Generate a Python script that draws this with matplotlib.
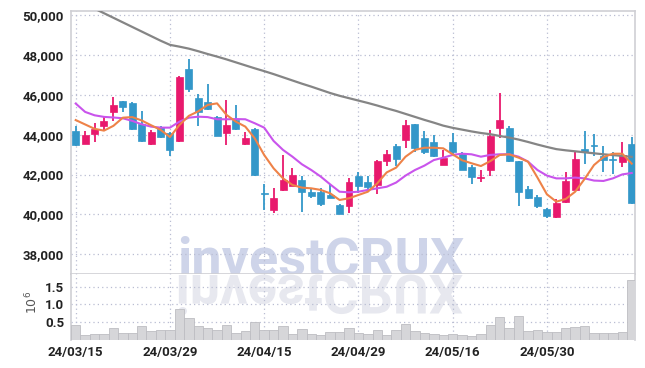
import matplotlib
matplotlib.use('Agg')
import matplotlib.pyplot as plt
import numpy as np
from matplotlib.textpath import TextPath
from matplotlib.patches import PathPatch
from matplotlib.font_manager import FontProperties
import matplotlib.transforms as mtransforms

# ---------------- data ----------------
dates = ['24/03/15', '24/03/18', '24/03/19', '24/03/20', '24/03/21', '24/03/22',
         '24/03/25', '24/03/26', '24/03/27', '24/03/28', '24/03/29',
         '24/04/01', '24/04/02', '24/04/03', '24/04/04', '24/04/05',
         '24/04/08', '24/04/09', '24/04/11', '24/04/12', '24/04/15',
         '24/04/16', '24/04/17', '24/04/18', '24/04/19', '24/04/22',
         '24/04/23', '24/04/24', '24/04/25', '24/04/26', '24/04/29',
         '24/04/30', '24/05/02', '24/05/03', '24/05/07', '24/05/08',
         '24/05/09', '24/05/10', '24/05/13', '24/05/14', '24/05/16',
         '24/05/17', '24/05/20', '24/05/21', '24/05/22', '24/05/23',
         '24/05/24', '24/05/27', '24/05/28', '24/05/29', '24/05/30',
         '24/05/31', '24/06/03', '24/06/04', '24/06/05', '24/06/07',
         '24/06/10', '24/06/11', '24/06/12', '24/06/13']

opens = [44190, 43555, 44025, 44460, 45160, 45700, 45600, 44525, 43555, 44390,
         44090, 43690, 47300, 45865, 45665, 44895, 44090, 44760, 43555, 44290,
         41040, 40240, 41210, 41445, 41710, 41110, 41110, 40975, 40470, 40440,
         41915, 41645, 41480, 42685, 43455, 43720, 44560, 43820, 43620, 42480,
         43620, 43050, 42380, 41810, 42215, 44360, 44325, 42685, 41275, 40875,
         40270, 39870, 40605, 41245, 43285, 43490, 42920, 42750, 42615, 43555]
closes = [43490, 43990, 44290, 44695, 45495, 45400, 44290, 43690, 44125, 43890,
          43255, 46905, 46300, 45160, 45295, 43955, 44490, 44290, 43855, 41980,
          41010, 40810, 41710, 41980, 41110, 40940, 40505, 40840, 40035, 41610,
          41445, 41375, 42685, 43050, 42785, 44490, 43355, 43120, 42920, 42850,
          43150, 42250, 41880, 41880, 43925, 44725, 42685, 41140, 40840, 40440,
          39935, 40575, 41680, 42785, 43150, 43455, 42750, 42715, 42985, 40575]
highs = [44460, 44190, 44575, 44895, 45885, 45700, 45665, 45195, 44260, 44460,
         44155, 46940, 47810, 46035, 46535, 44960, 45730, 45495, 44155, 44360,
         41510, 41310, 42985, 42350, 41915, 41345, 41345, 41545, 40505, 41810,
         42150, 41915, 42750, 43220, 43520, 44725, 44560, 44190, 43990, 43255,
         44090, 43120, 42480, 42215, 44260, 46100, 44460, 42700, 41445, 40975,
         40305, 40775, 42150, 43150, 44190, 44025, 43455, 43120, 43620, 43890]
lows = [43450, 43530, 43620, 44225, 44695, 45130, 44260, 43620, 43490, 43855,
        42950, 43620, 46165, 44460, 45265, 43920, 43490, 44225, 43490, 41915,
        40205, 40070, 41175, 41410, 40105, 40840, 40440, 40810, 40005, 40070,
        41075, 41175, 41040, 42450, 42450, 43320, 43150, 43020, 42885, 42480,
        43050, 42215, 41510, 41610, 41915, 43820, 42650, 40440, 40775, 40340,
        39805, 39835, 40575, 41210, 42515, 42950, 42150, 42045, 42380, 40505]
volume = [420000, 140000, 160000, 160000, 330000, 190000, 190000, 380000, 250000, 270000,
          270000, 870000, 610000, 380000, 330000, 270000, 410000, 190000, 240000, 500000,
          270000, 270000, 380000, 160000, 300000, 160000, 130000, 220000, 220000, 330000,
          190000, 160000, 270000, 130000, 270000, 440000, 240000, 190000, 160000, 130000,
          160000, 130000, 100000, 160000, 410000, 640000, 330000, 670000, 240000, 270000,
          220000, 220000, 330000, 360000, 380000, 190000, 190000, 190000, 220000, 1680000]
ma_long = [50800, 50570, 50340, 50110, 49880, 49650, 49420, 49190, 48960, 48730,
           48520, 48430, 48330, 48200, 48060, 47930, 47790, 47640, 47490, 47340,
           47200, 47050, 46890, 46730, 46570, 46420, 46260, 46100, 45960, 45840,
           45720, 45600, 45470, 45330, 45200, 45050, 44900, 44750, 44610, 44460,
           44350, 44260, 44170, 44090, 44030, 43940, 43860, 43760, 43640, 43510,
           43390, 43280, 43220, 43170, 43120, 43070, 43020, 42980, 42940, 42890]
ma_short = [44740, 44520, 44300, 44210, 44450, 44860, 44890, 44720, 44480, 44250,
            43890, 44490, 44950, 45180, 45500, 45580, 45000, 44660, 44410, 43820,
            42985, 42315, 41810, 41480, 41345, 41310, 41230, 41060, 40725, 40810,
            40975, 41140, 41560, 42110, 42350, 42900, 43240, 43350, 43350, 43320,
            43020, 42720, 42570, 42430, 42680, 42985, 43020, 42850, 42650, 41850,
            41010, 40640, 40775, 41140, 41780, 42480, 42880, 43050, 43050, 42550]
ma_mid = [45570, 45150, 44980, 44900, 44870, 44830, 44700, 44530, 44410, 44360,
          44360, 44660, 44860, 44910, 44890, 44780, 44780, 44790, 44780, 44580,
          44360, 43690, 43240, 42900, 42520, 42230, 41900, 41510, 41140, 41110,
          41140, 41230, 41310, 41390, 41600, 41950, 42230, 42450, 42730, 42850,
          42990, 43050, 43020, 42900, 42990, 43020, 43020, 42900, 42650, 42230,
          41950, 41810, 41810, 41850, 41810, 41700, 41680, 41810, 42010, 42080]
price_ticks = [38000, 40000, 42000, 44000, 46000, 48000, 50000]
volume_ticks = [500000, 1000000, 1500000]
volume_tick_labels = ['0.5', '1.0', '1.5']
date_tick_idx = [0, 10, 20, 30, 40, 50]

# ---------------- styling ----------------
UP = '#e8196d'
DOWN = '#3397c9'
GRID = '#b9bdd2'
SPINE = '#cfcfd4'
TICKFONT = ['Roboto', 'DejaVu Sans']

W, H, DPI = 645, 368, 100
fig = plt.figure(figsize=(W / DPI, H / DPI), dpi=DPI)
fig.patch.set_facecolor('white')

def fr(x0, y0, x1, y1):
    return [x0 / W, 1 - y1 / H, (x1 - x0) / W, (y1 - y0) / H]

ax = fig.add_axes(fr(71, 11, 635, 274))
axv = fig.add_axes(fr(71, 274, 635, 340), sharex=ax)

x = np.arange(len(dates))
o = np.array(opens, float); c = np.array(closes, float)
h = np.array(highs, float); l = np.array(lows, float)
up = c >= o
cols = np.where(up, UP, DOWN)

# wicks
ax.vlines(x, l, h, colors=cols, linewidth=1.3, zorder=2)
# bodies
bottoms = np.minimum(o, c)
heights = np.maximum(np.abs(c - o), 45)
ax.bar(x, heights, bottom=bottoms, width=0.74, color=cols, edgecolor=cols,
       linewidth=0.5, zorder=3)

# moving averages
ax.plot(x, ma_long, color='#858585', linewidth=1.6, zorder=4)
ax.plot(x, ma_mid, color='#c954ec', linewidth=1.5, zorder=4)
ax.plot(x, ma_short, color='#ee8248', linewidth=1.5, zorder=4)

ax.set_xlim(-0.5, 59.35)
ax.set_ylim(37005, 50221)
ax.set_yticks(price_ticks)
ax.set_yticklabels([f'{v:,}' for v in price_ticks])
ax.set_xticks(date_tick_idx)
ax.tick_params(axis='x', labelbottom=False, length=0)
ax.tick_params(axis='y', length=0, pad=5, labelsize=9.5, labelcolor='#222222')
ax.set_axisbelow(True)
ax.grid(True, color=GRID, linestyle=(0, (1, 2.5)), linewidth=0.9)
for s in ['top', 'left', 'right', 'bottom']:
    ax.spines[s].set_color(SPINE)
    ax.spines[s].set_linewidth(1.2)

# volume
axv.bar(x, volume, width=1.0, color='#d6d6d9', edgecolor='#bdbdc2',
        linewidth=0.6, zorder=3)
axv.set_ylim(0, 1.854e6)
axv.set_yticks(volume_ticks)
axv.set_yticklabels(volume_tick_labels)
axv.set_xticks(date_tick_idx)
axv.set_xticklabels([dates[i] for i in date_tick_idx])
axv.tick_params(axis='both', length=0, labelsize=9.5, labelcolor='#222222')
axv.tick_params(axis='y', pad=5)
axv.tick_params(axis='x', pad=4)
axv.set_axisbelow(True)
axv.grid(True, color=GRID, linestyle=(0, (1, 2.5)), linewidth=0.9)
axv.spines['top'].set_visible(False)
axv.spines['bottom'].set_visible(False)
for s in ['left', 'right']:
    axv.spines[s].set_color(SPINE)
    axv.spines[s].set_linewidth(1.2)

for a in (ax, axv):
    for lab in a.get_xticklabels() + a.get_yticklabels():
        lab.set_family(TICKFONT)
        lab.set_fontweight('bold')

fig.text(32 / W, 1 - 302 / H, r'$10^6$', rotation=90, ha='center', va='center',
         fontsize=9, color='#555555')

# watermark
wm_font = FontProperties(family=['Roboto', 'DejaVu Sans'], weight='bold', size=39)
cx, base = 320.5, 275
ax.text(cx / W, 1 - base / H, 'investCRUX', transform=fig.transFigure,
        ha='center', va='baseline', fontproperties=wm_font, color='#ced4e9',
        zorder=0.3, clip_on=False)
tp = TextPath((0, 0), 'investCRUX', prop=wm_font)
ext = tp.get_extents()
sc = DPI / 72.0
tw = (ext.x1 - ext.x0) * sc
trans = (mtransforms.Affine2D().translate(-ext.x0, 0).scale(sc, -sc)
         .translate(cx - tw / 2, H - base))
axv.add_patch(PathPatch(tp, transform=trans, facecolor='#e7e8ef',
                        edgecolor='none', zorder=0.3, clip_on=False))

fig.savefig('out.png', dpi=DPI)
